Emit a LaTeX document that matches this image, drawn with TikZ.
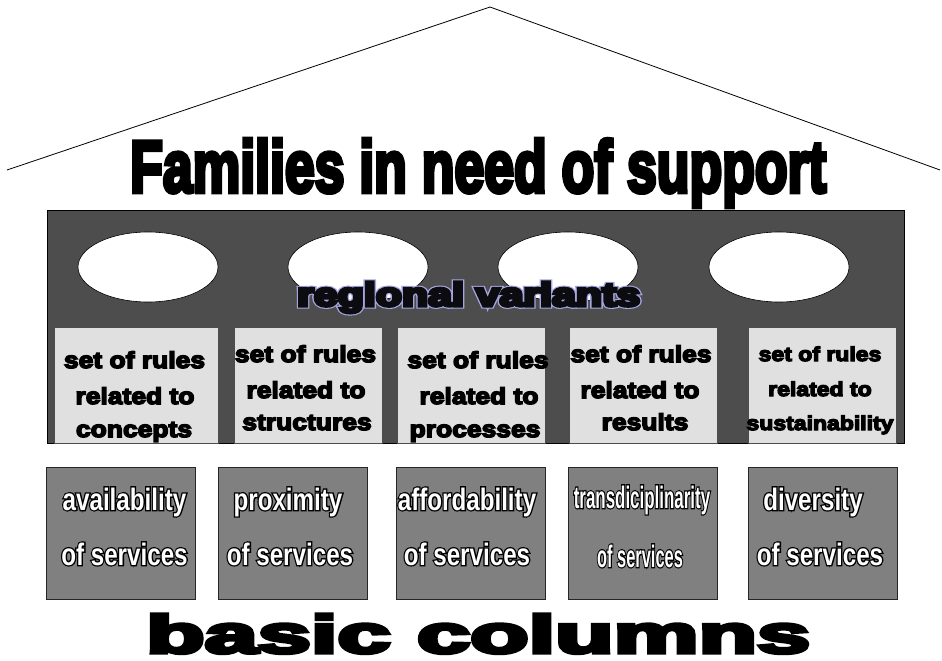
\documentclass[tikz,border=0pt]{standalone}
\usepackage{fontspec}
\usepackage{graphicx}
\usetikzlibrary{shapes.geometric}
\newfontfamily\boldf{Liberation Sans Bold}
\newfontfamily\rulef[FakeStretch=1.15]{Liberation Sans Bold}
\newfontfamily\condf[FakeStretch=0.78]{Liberation Sans Bold}
\newcommand\strk[2]{\special{pdf:literal direct #1 w 2 Tr}#2\special{pdf:literal direct 0 Tr}}
\definecolor{housedark}{RGB}{77,77,77}
\definecolor{rulegray}{RGB}{224,224,224}
\definecolor{colgray}{RGB}{128,128,128}
\definecolor{lav}{RGB}{165,165,225}
\definecolor{rvfill}{RGB}{12,12,16}
\begin{document}
\begin{tikzpicture}[x=1pt,y=-1pt,
  roof/.style={draw=black,line width=0.8pt},
  housebox/.style={draw=black,line width=0.6pt,fill=housedark,inner sep=0pt},
  ell/.style={ellipse,draw=black,line width=0.6pt,fill=white,minimum width=140pt,minimum height=70pt,inner sep=0pt},
  rulebox/.style={draw=black!70,line width=0.6pt,fill=rulegray,inner sep=0pt,minimum height=116pt},
  colbox/.style={draw=black!85,line width=0.8pt,fill=colgray,inner sep=0pt,minimum height=132pt,minimum width=149pt},
  rtext/.style={inner sep=0pt,anchor=base,font=\rulef\fontsize{23}{23}\selectfont},
  rtextsmall/.style={inner sep=0pt,anchor=base,font=\rulef\fontsize{20}{20}\selectfont},
  ctext/.style={inner sep=0pt,anchor=base,font=\condf\fontsize{31}{31}\selectfont},
  bigtext/.style={inner sep=0pt,anchor=base west}]
\useasboundingbox (0,0) rectangle (942,661);
% roof
\coordinate (rl) at (7,170);
\coordinate (apex) at (490,7);
\coordinate (rr) at (940,170);
\draw[roof] (rl) -- (apex) -- (rr);
% house body
\node[housebox,minimum width=857pt,minimum height=233pt] (body) at (475.5,326.5) {};
\node[ell] (e1) at (148,267) {};
\node[ell] (e2) at (358,267) {};
\node[ell] (e3) at (568,267) {};
\node[ell] (e4) at (779,267) {};
% rule boxes
\node[rulebox,minimum width=164pt] (r1) at (136,385) {};
\node[rulebox,minimum width=148pt] (r2) at (308,385) {};
\node[rulebox,minimum width=148pt] (r3) at (471,385) {};
\node[rulebox,minimum width=148pt] (r4) at (643,385) {};
\node[rulebox,minimum width=148pt] (r5) at (822,385) {};
% column boxes
\node[colbox] (c1) at (120.5,533) {};
\node[colbox] (c2) at (292.5,533) {};
\node[colbox] (c3) at (471,533) {};
\node[colbox] (c4) at (642.5,533) {};
\node[colbox] (c5) at (822.5,533) {};
% title
\node[bigtext] (title) at (130,192) {\boldf\fontsize{73}{73}\selectfont\resizebox{696pt}{53pt}{\strk{4.5}{Families in need of support}}};
% regional variants (outline + fill)
\node[bigtext,text=lav] (rvo) at (297,306) {\boldf\fontsize{33}{33}\selectfont\resizebox{343pt}{24pt}{\strk{5.2}{regional variants}}};
\node[bigtext,text=rvfill] (rv) at (297,306) {\boldf\fontsize{33}{33}\selectfont\resizebox{343pt}{24pt}{\strk{3}{regional variants}}};
% rule texts
\node[rtext] (t1a) at (134.5,368) {\strk{1.5}{set of rules}};
\node[rtext] (t1b) at (135,404) {\strk{1.5}{related to}};
\node[rtext] (t1c) at (134,437) {\strk{1.5}{concepts}};
\node[rtext] (t2a) at (305.5,362) {\strk{1.5}{set of rules}};
\node[rtext] (t2b) at (306,398) {\strk{1.5}{related to}};
\node[rtext] (t2c) at (307,430) {\strk{1.5}{structures}};
\node[rtext] (t3a) at (478,368) {\strk{1.5}{set of rules}};
\node[rtext] (t3b) at (479,404) {\strk{1.5}{related to}};
\node[rtext] (t3c) at (475,437) {\strk{1.5}{processes}};
\node[rtext] (t4a) at (641,362) {\strk{1.5}{set of rules}};
\node[rtext] (t4b) at (640,398) {\strk{1.5}{related to}};
\node[rtext] (t4c) at (645,430) {\strk{1.5}{results}};
\node[rtextsmall] (t5a) at (820,361) {\strk{1.3}{set of rules}};
\node[rtextsmall] (t5b) at (820,396) {\strk{1.3}{related to}};
\node[rtextsmall] (t5c) at (820,430) {\strk{1.3}{sustainability}};
% column texts: black outline layer, then white fill layer
\newcommand\colline[3]{%
  \node[ctext,text=black] (#1o) at (#2) {\strk{2.6}{#3}};
  \node[ctext,text=white] (#1) at (#2) {#3};}
\colline{k1a}{124.5,510}{availability}
\colline{k1b}{124.5,565}{of services}
\colline{k2a}{288,510}{proximity}
\colline{k2b}{290,565}{of services}
\colline{k3a}{467,510}{affordability}
\colline{k3b}{467,565}{of services}
\colline{k4a}{642,508}{\scalebox{0.7}[1]{transdiciplinarity}}
\colline{k4b}{640,567}{\scalebox{0.68}[1]{of services}}
\colline{k5a}{813,510}{diversity}
\colline{k5b}{820,565}{of services}
% basic columns
\node[bigtext] (basic) at (146,653) {\boldf\fontsize{56}{56}\selectfont\resizebox{664pt}{39pt}{\strk{3.5}{basic columns}}};
\end{tikzpicture}
\end{document}
